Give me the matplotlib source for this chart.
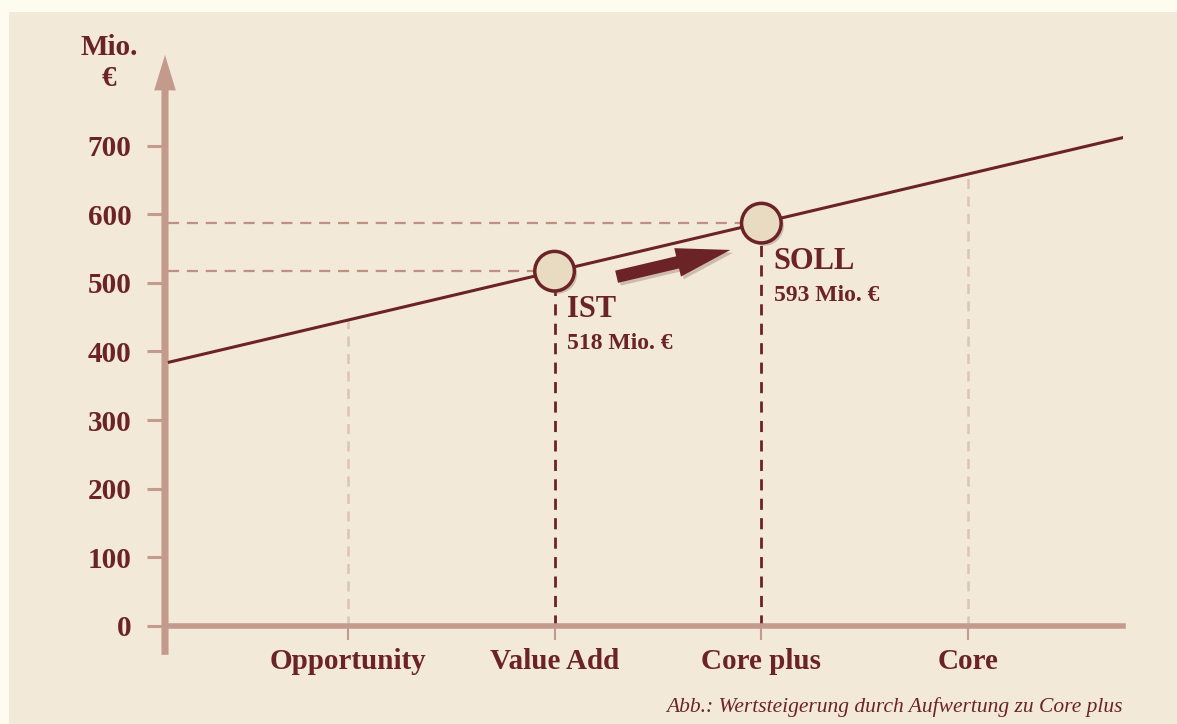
import numpy as np
import matplotlib.pyplot as plt
from matplotlib.patches import Rectangle
import matplotlib.patheffects as pe

# data
categories = ['Opportunity', 'Value Add', 'Core plus', 'Core']
yticks = [0, 100, 200, 300, 400, 500, 600, 700]
line_x = [0.13, 4.754]          # trend line ends, in category units
line_y = [384, 712]
point_names = ['IST', 'SOLL']
point_cat = [2, 3]              # Value Add, Core plus
point_vals = [517, 587]
point_labels = ['518 Mio. €', '593 Mio. €']
caption = 'Abb.: Wertsteigerung durch Aufwertung zu Core plus'

dark = '#6c2326'
axcol = '#c39a8c'
hdash = '#bd9283'
light = '#dcc5b6'
panel = '#f2e9d9'
outer = '#fefcef'

plt.rcParams['font.family'] = ['Liberation Serif', 'DejaVu Serif']

W, H = 1177, 724
fig = plt.figure(figsize=(W / 100, H / 100), dpi=100)
fig.patch.set_facecolor(outer)
fig.patches.append(Rectangle((9 / W, 0), 1, (H - 12) / H, transform=fig.transFigure,
                             facecolor=panel, edgecolor='none', zorder=-10))

# axes origin at pixel (165, 626), arrow tip at y=55
ax = fig.add_axes([165 / W, (H - 626) / H, (1123 - 165) / W, (626 - 55) / H])
ax.set_facecolor('none')
xpos = np.arange(1, len(categories) + 1)
ax.set_xlim(0.116, 4.749)
ax.set_ylim(0, 832)

for s in ['top', 'right', 'left']:
    ax.spines[s].set_visible(False)
ax.spines['bottom'].set_color(axcol)
ax.spines['bottom'].set_linewidth(4)

# y axis with arrow
ax.annotate('', xy=(0.116, 832), xytext=(0.116, -42), xycoords='data',
            arrowprops=dict(arrowstyle='simple,head_length=0.85,head_width=0.52,tail_width=0.17',
                            color=axcol, lw=0, shrinkA=0, shrinkB=0,
                            mutation_scale=30),
            annotation_clip=False)

ax.set_yticks(yticks)
ax.set_yticklabels([str(v) for v in yticks])
ax.tick_params(axis='y', length=13, width=2.2, color=axcol, pad=11,
               labelsize=21, labelcolor=dark)
ax.set_xticks(xpos)
ax.set_xticklabels(categories)
ax.tick_params(axis='x', length=10, width=1.5, color=axcol, pad=5.5,
               labelsize=21, labelcolor=dark)
for lab in ax.get_xticklabels() + ax.get_yticklabels():
    lab.set_fontweight('bold')

# trend line
ax.plot(line_x, line_y, color=dark, lw=2.2, zorder=3, solid_capstyle='butt')

# light vertical guides at Opportunity and Core
for c in [1, 4]:
    yv = np.interp(c, line_x, line_y)
    ax.plot([c, c], [0, yv], color=light, lw=1.8, ls=(0, (4, 3)), zorder=2)

# guides for IST / SOLL
for c, v in zip(point_cat, point_vals):
    ax.plot([c, c], [0, v], color=dark, lw=2.0, ls=(0, (4, 3)), zorder=2)
    ax.plot([0.13, c], [v, v], color=hdash, lw=1.6, ls=(0, (5, 3.5)), zorder=2)

# markers with soft shadow
ax.plot(point_cat, point_vals, 'o', ms=28.5, mfc='#e9dac2', mec=dark, mew=2.5, zorder=5,
        ls='none',
        path_effects=[pe.SimplePatchShadow(offset=(2, -2), shadow_rgbFace='#8a6a5a', alpha=0.35),
                      pe.Normal()])

# labels
for c, v, name, lab in zip(point_cat, point_vals, point_names, point_labels):
    ax.annotate(name, xy=(c, v), xytext=(9, -33), textcoords='offset points',
                fontsize=22, fontweight='bold', color=dark, va='baseline', ha='left')
    ax.annotate(lab, xy=(c, v), xytext=(9, -56), textcoords='offset points',
                fontsize=17, fontweight='bold', color=dark, va='baseline', ha='left')

# movement arrow
a0 = (point_cat[0] + 0.30, np.interp(point_cat[0] + 0.30, line_x, line_y) - 29)
a1 = (point_cat[1] - 0.15, np.interp(point_cat[1] - 0.15, line_x, line_y) - 29)
ax.annotate('', xy=a1, xytext=a0,
            arrowprops=dict(arrowstyle='simple,head_length=1.3,head_width=0.7,tail_width=0.3',
                            color=dark, lw=0, shrinkA=0, shrinkB=0, mutation_scale=30,
                            path_effects=[pe.SimplePatchShadow(offset=(2, -2), shadow_rgbFace='#8a6a5a', alpha=0.35),
                                          pe.Normal()]),
            zorder=6)

# axis title
fig.text(109 / W, 1 - 63 / H, 'Mio.\n€', ha='center', va='center', fontsize=21,
         fontweight='bold', color=dark, linespacing=1.15)

# caption
fig.text(1123 / W, 1 - 707 / H, caption, ha='right', va='center', fontsize=15.5,
         style='italic', color=dark)

fig.savefig('out.png', dpi=100, facecolor=fig.get_facecolor())
